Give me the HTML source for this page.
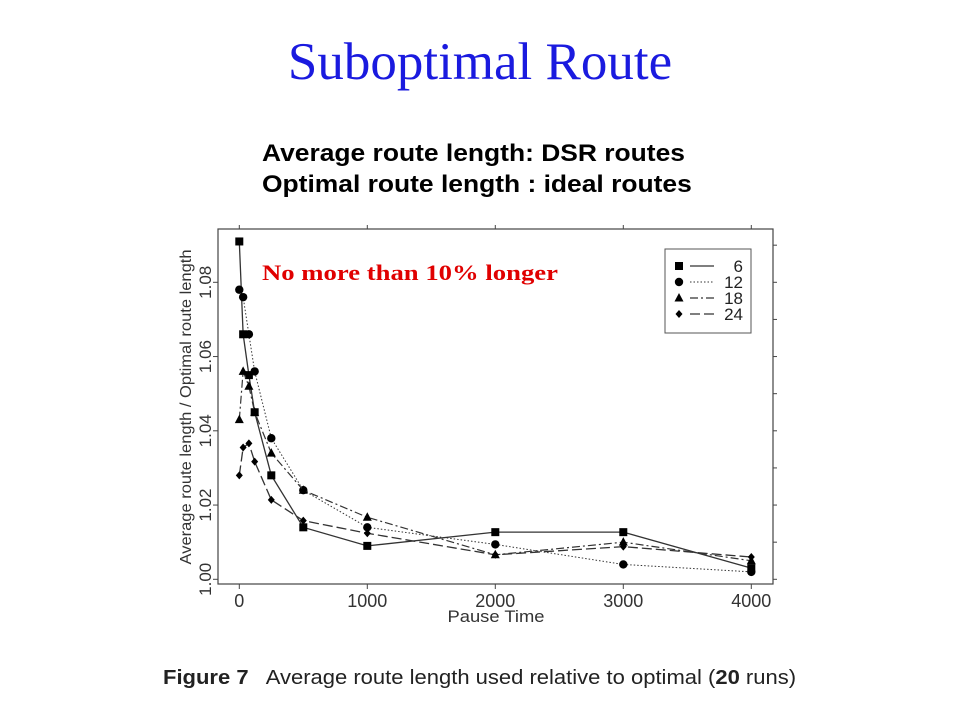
<!DOCTYPE html>
<html><head><meta charset="utf-8"><style>
body{margin:0;width:960px;height:720px;background:#fff;overflow:hidden;position:relative;font-family:"Liberation Sans",sans-serif}
.t{position:absolute;white-space:nowrap;transform-origin:0 0}
</style></head><body>
<div class="t" style="left:0;width:960px;text-align:center;top:32px;font-family:'Liberation Serif',serif;font-size:53px;color:#1a1adf">Suboptimal Route</div>
<div class="t" style="left:262px;top:140px;font-size:24px;font-weight:bold;transform:scaleX(1.1)">Average route length: DSR routes</div>
<div class="t" style="left:262px;top:171px;font-size:24px;font-weight:bold;transform:scaleX(1.1)">Optimal route length : ideal routes</div>
<div class="t" style="left:163px;top:667px;font-size:20px;color:#222;transform:scaleX(1.1)"><b>Figure 7</b>&nbsp;&nbsp; Average route length used relative to optimal (<b>20</b> runs)</div>
<svg id="chart" width="960" height="720" style="position:absolute;left:0;top:0">
<rect x="218" y="229" width="555" height="355" fill="none" stroke="#444" stroke-width="1.2"/>
<g id="axes"></g><g id="series"></g>
<text x="262" y="280" font-family="Liberation Serif" font-weight="bold" font-size="22" textLength="296" lengthAdjust="spacingAndGlyphs" fill="#e00000">No more than 10% longer</text>
<text x="496" y="622" text-anchor="middle" font-size="17" textLength="97" lengthAdjust="spacingAndGlyphs" fill="#333">Pause Time</text>
<text transform="translate(191,407) rotate(-90)" text-anchor="middle" font-size="16" textLength="315" lengthAdjust="spacingAndGlyphs" fill="#333">Average route length / Optimal route length</text>
<g>
<rect x="665" y="249" width="86" height="84" fill="#fff" stroke="#555"/>
</g>
</svg>
<script>
const xs=[0,30,75,120,250,500,1000,2000,3000,4000];
const s6=[1.091,1.066,1.055,1.045,1.028,1.014,1.009,1.0127,1.0127,1.003];
const s12=[1.078,1.076,1.066,1.056,1.038,1.024,1.014,1.0094,1.004,1.002];
const s18=[1.043,1.056,1.052,1.045,1.034,1.024,1.0167,1.0066,1.010,1.005];
const s24=[1.028,1.0355,1.0366,1.0317,1.0214,1.0158,1.0124,1.0066,1.0088,1.006];
const xTicks=[0,1000,2000,3000,4000];
const yTicks=[1.00,1.02,1.04,1.06,1.08];
const names=["6","12","18","24"];
const NS="http://www.w3.org/2000/svg";
const X=v=>239.3+v*0.128;
const Y=v=>579.3-(v-1)*3712.5;
const ax=document.getElementById('axes'),sg=document.getElementById('series'),svg=document.getElementById('chart');
function mk(t,a,p){const e=document.createElementNS(NS,t);for(const k in a)e.setAttribute(k,a[k]);p.appendChild(e);return e;}
xTicks.forEach(v=>{
 const l=mk('line',{x1:X(v),x2:X(v),y1:584,y2:589,stroke:'#444'},ax);
 
 
 mk('line',{x1:X(v),x2:X(v),y1:229,y2:225,stroke:'#444'},ax);
 const t=mk('text',{x:X(v),y:607,'text-anchor':'middle','font-size':18,fill:'#333'},ax);t.textContent=v;
 
 
});
yTicks.forEach(v=>{
 const l=mk('line',{x1:213,x2:218,y1:Y(v),y2:Y(v),stroke:'#444'},ax);
 
 
 mk('line',{x1:773,x2:777,y1:Y(v),y2:Y(v),stroke:'#444'},ax);
 mk('line',{x1:773,x2:777,y1:Y(v+0.01),y2:Y(v+0.01),stroke:'#444'},ax);
 const t=mk('text',{transform:`translate(211,${Y(v)}) rotate(-90)`,'text-anchor':'middle','font-size':17,fill:'#333'},ax);t.textContent=v.toFixed(2);
 
 
});
const dashes=['none','1.5,2','8,3,2,3','10,4'];
const widths=[1.3,1,1.2,1.3];
function marker(k,x,y,p){
 if(k==0)return mk('rect',{x:x-4,y:y-4,width:8,height:8,fill:'#000'},p);
 if(k==1)return mk('circle',{cx:x,cy:y,r:4.2,fill:'#000'},p);
 if(k==2)return mk('polygon',{points:`${x},${y-5} ${x+4.5},${y+3.5} ${x-4.5},${y+3.5}`,fill:'#000'},p);
 return mk('polygon',{points:`${x},${y-4} ${x+3.5},${y} ${x},${y+4} ${x-3.5},${y}`,fill:'#000'},p);
}
[s6,s12,s18,s24].forEach((s,k)=>{
 const pl=mk('polyline',{points:s.map((v,i)=>X(xs[i])+','+Y(v)).join(' '),fill:'none',stroke:'#333','stroke-width':widths[k],'stroke-dasharray':dashes[k]},sg);
 
 
 s.forEach((v,i)=>{const m=marker(k,X(xs[i]),Y(v),sg);
  
  });
 const ly=266+k*16;
 const lm=marker(k,679,ly,svg);
 
 
 mk('line',{x1:690,x2:714,y1:ly,y2:ly,stroke:'#333','stroke-width':widths[k],'stroke-dasharray':dashes[k]},svg);
 const t=mk('text',{x:743,y:ly+6,'text-anchor':'end','font-size':17,fill:'#222'},svg);t.textContent=names[k];
 
 
});
</script>
</body></html>
